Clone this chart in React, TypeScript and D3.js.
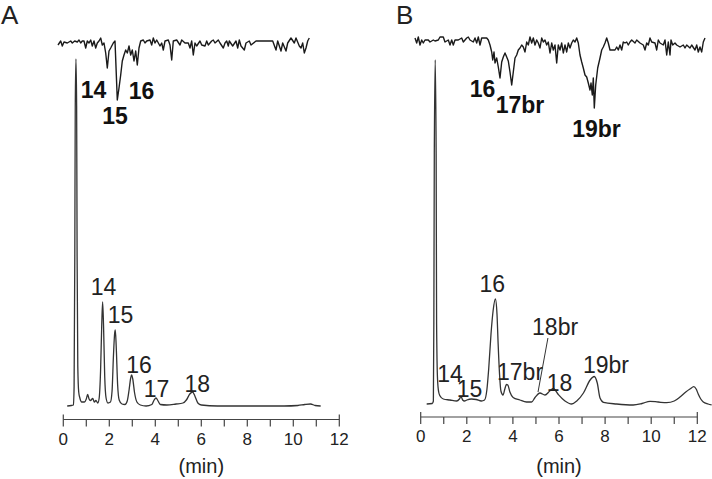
import React from "react";
import * as d3 from "d3";

// ---------- Panel A: chromatogram (time in min, intensity a.u.) ----------
const chromA: [number, number][] = [
  [0.17, 0], [0.35, 0.5], [0.44, 1], [0.47, 20], [0.5, 150], [0.52, 300], [0.55, 347], [0.58, 300], [0.6, 150],
  [0.63, 40], [0.67, 14], [0.72, 8], [0.8, 4], [0.92, 4], [1.0, 7], [1.06, 11.5], [1.12, 7], [1.18, 5.5],
  [1.28, 7.5], [1.35, 4], [1.42, 5.5], [1.5, 3], [1.56, 8], [1.62, 35], [1.67, 80], [1.71, 104], [1.75, 80],
  [1.8, 30], [1.86, 8], [1.94, 3], [2.05, 4], [2.12, 15], [2.18, 50], [2.23, 72], [2.26, 76], [2.3, 60],
  [2.36, 22], [2.43, 6], [2.55, 2], [2.68, 1.5], [2.78, 5], [2.86, 16], [2.93, 28], [2.97, 31], [3.02, 27],
  [3.1, 13], [3.2, 4], [3.35, 1], [3.6, 0], [3.85, 1.5], [3.95, 6], [4.03, 8], [4.12, 5], [4.22, 1.5],
  [4.5, 1], [4.9, 2], [5.2, 3], [5.35, 6], [5.5, 12], [5.62, 14], [5.72, 10], [5.85, 3], [6.0, 1], [6.7, 0],
  [8.2, 0], [9.6, 0], [10.2, 0.5], [10.5, 1.5], [10.75, 2], [10.95, 0.5], [11.19, 0],
];

// ---------- Panel B: chromatogram ----------
const chromB: [number, number][] = [
  [0.26, 0], [0.5, 0.5], [0.55, 3], [0.57, 80], [0.59, 250], [0.63, 344], [0.67, 250], [0.69, 80], [0.73, 25],
  [0.78, 12], [0.84, 8], [0.98, 5], [1.27, 4], [1.56, 3], [1.68, 5], [1.75, 7.5], [1.82, 4], [1.9, 3], [2.0, 4],
  [2.2, 5], [2.41, 4.5], [2.63, 3], [2.77, 4], [2.87, 14], [2.95, 35], [3.05, 70], [3.14, 93], [3.24, 105],
  [3.31, 90], [3.36, 60], [3.42, 30], [3.48, 13], [3.57, 9], [3.65, 15], [3.72, 19.5], [3.78, 19], [3.87, 12],
  [4.01, 6.5], [4.3, 4], [4.59, 2], [4.81, 2], [4.96, 6.5], [5.17, 11], [5.39, 9], [5.6, 13], [5.75, 15.5],
  [5.97, 9.5], [6.26, 3], [6.55, 0], [6.77, 3], [7.06, 11], [7.35, 24], [7.53, 27.5], [7.66, 21], [7.78, 6],
  [7.93, 1.7], [8.5, 0], [9.22, -1], [9.6, 0.5], [9.95, 2.7], [10.3, 2], [10.67, 1.3], [11.0, 3], [11.25, 7],
  [11.5, 12], [11.68, 15], [11.85, 17.3], [11.95, 15], [12.04, 10], [12.15, 5], [12.26, 2], [12.47, 0], [12.62, -1],
];

// ---------- Inset traces (scan index, signal) ----------
const insetA: [number, number][] = [
  [1, 60], [3.7, 64], [5.3, 59], [7, 63], [10.3, 62], [13.7, 64], [15.3, 62], [17.7, 64], [20.3, 63], [22, 65],
  [23.7, 62], [25.3, 64], [27, 64], [28.7, 57], [30.3, 64], [32, 62], [33.7, 65], [35.3, 59], [37, 64], [38.7, 57],
  [40.3, 62], [42, 64], [43.7, 67], [45.3, 60], [47, 62], [48.7, 52], [50.3, 37], [52, 54], [53.7, 57], [56.3, 62],
  [58, 64], [60.3, 5], [62, 17], [63.7, 30], [65.3, 44], [67, 50], [68.7, 55], [70.3, 52], [72, 59], [73.7, 50],
  [75.3, 55], [77, 44], [78.7, 54], [80.3, 40], [82, 57], [83.7, 64], [86.3, 65], [88, 62], [89.7, 64], [93, 65],
  [94.7, 60], [96.3, 67], [98, 62], [99.7, 65], [103, 59], [104.7, 62], [106.3, 55], [108, 64], [111.3, 65],
  [113, 60], [114.7, 45], [116.3, 64], [119.7, 65], [123, 60], [124.7, 65], [128, 62], [131.3, 62], [133, 57],
  [134.7, 64], [136.3, 50], [138, 62], [139.7, 59], [143, 64], [144.7, 60], [148, 59], [149.7, 64], [151.3, 60],
  [154.7, 64], [156.3, 65], [158, 62], [161.3, 65], [163, 62], [166.3, 57], [168, 62], [169.7, 64], [171.3, 59],
  [172.3, 64], [175.7, 59], [179, 64], [180.7, 57], [182.3, 65], [184, 59], [187.3, 55], [189, 62], [192.3, 64],
  [194, 60], [199, 64], [205.7, 64], [210.7, 64], [215.7, 64], [219, 55], [220.7, 64], [224, 54], [225.7, 62],
  [229, 54], [230.7, 62], [234, 67], [237.3, 62], [239, 67], [242.3, 59], [244, 57], [245.7, 62], [247.3, 52],
  [249, 57], [250.7, 64], [252.3, 67],
];

const insetB: [number, number][] = [
  [0, 67], [1.7, 62], [3.3, 68], [5, 60], [6.7, 65], [8.3, 62], [10, 65], [13.3, 65], [15, 63], [18.3, 65],
  [20, 64], [23.3, 65], [25, 68], [28.3, 68], [30, 63], [33.3, 65], [35, 60], [36.7, 65], [38.3, 60], [40, 65],
  [43.3, 65], [46.7, 67], [48.3, 63], [51.7, 67], [53.3, 68], [55, 65], [58.3, 63], [60, 67], [61.7, 62],
  [63.3, 68], [65, 60], [66.7, 67], [70, 67], [71.7, 67], [73.3, 65], [75, 60], [76.7, 53], [77.7, 45], [79, 53],
  [80, 42], [81.7, 47], [83.3, 38], [85, 27], [86.7, 43], [88.3, 48], [90, 52], [91.7, 48], [93.3, 44], [95, 33],
  [96.7, 20], [98.3, 33], [100, 47], [101.7, 50], [103.3, 55], [105, 57], [106.7, 60], [108.3, 58], [110, 53],
  [111.7, 63], [113.3, 60], [115, 68], [116.7, 62], [118.3, 67], [120, 60], [121.7, 65], [123.3, 62], [125, 57],
  [126.7, 67], [128.3, 63], [130, 65], [131.7, 60], [133.3, 63], [135, 52], [136.7, 62], [138.3, 55], [140, 60],
  [141.7, 42], [143.3, 60], [145, 55], [146.7, 62], [148.3, 52], [150, 60], [151.7, 53], [153.3, 62], [155, 57],
  [156.7, 62], [158.3, 65], [160, 63], [161.7, 67], [163.3, 62], [165, 50], [166.7, 43], [168.3, 37], [170, 30],
  [171.7, 28], [173.3, 22], [175, 15], [176, 22], [177.3, 10], [178.3, 27], [179.3, -3], [180.7, 20], [182.7, 37],
  [185, 47], [186.7, 55], [188.3, 58], [190, 62], [191.7, 67], [193.3, 62], [195, 55], [196.7, 55], [200, 55],
  [201.7, 58], [203.3, 55], [205, 60], [206.7, 55], [208.3, 63], [210, 62], [211.7, 63], [213.3, 60], [215, 63],
  [216.7, 65], [220, 62], [221.7, 65], [225, 62], [228.3, 60], [230, 55], [231.7, 62], [233.3, 60], [235, 67],
  [236.7, 63], [240, 62], [241.7, 55], [243.3, 65], [245, 62], [248.3, 60], [250, 65], [251.7, 50], [253.3, 63],
  [255, 50], [256, 65], [257.7, 60], [260, 62], [261.7, 60], [265, 58], [268.3, 60], [270, 57], [271.7, 60],
  [275, 57], [276.7, 60], [280, 55], [281.7, 60], [283.3, 53], [285, 58], [286.7, 53], [288.3, 63], [290, 67],
];

// ---------- Axis ticks ----------
const minorTicks = [0, 1, 2, 3, 4, 5, 6, 7, 8, 9, 10, 11, 12];
const tickLabels = [0, 2, 4, 6, 8, 10, 12];

// ---------- Peak labels: [text, time, intensity] ----------
const labelsA: [string, number, number][] = [
  ["14", 1.75, 111], ["15", 2.49, 83], ["16", 3.29, 33], ["17", 4.05, 9], ["18", 5.83, 14],
];
const labelsB: [string, number, number][] = [
  ["16", 3.11, 112], ["18br", 5.83, 69], ["17br", 4.31, 24], ["14", 1.27, 22], ["15", 2.12, 7],
  ["18", 6.02, 13], ["19br", 8.04, 31],
];
const leaderB: [number, number][] = [[5.52, 66], [5.09, 12]];
// inset labels: [text, scan, signal]
const insetLabelsA: [string, number, number][] = [["14", 36.5, 7], ["16", 84.5, 6], ["15", 58, -19]];
const insetLabelsB: [string, number, number][] = [["16", 67.5, 8], ["17br", 105, -8], ["19br", 181.5, -32]];

const FONT = "'Liberation Sans', Arial, Helvetica, sans-serif";

type PanelProps = {
  title: string;
  titleX: number;
  chrom: [number, number][];
  labels: [string, number, number][];
  inset: [number, number][];
  insetLabels: [string, number, number][];
  xRange: [number, number];
  baseY: number;
  axisY: number;
  insetDomain: [number, number];
  insetRange: [number, number];
  leader?: [number, number][];
};

function Panel(p: PanelProps) {
  const x = d3.scaleLinear().domain([0, 12]).range(p.xRange);
  const y = d3.scaleLinear().domain([0, 350]).range([p.baseY, p.baseY - 350]);
  const xi = d3.scaleLinear().domain(p.insetDomain).range(p.insetRange);
  const yi = d3.scaleLinear().domain([0, 70]).range([105, 35]);
  const line = d3.line<[number, number]>().x((d) => x(d[0])).y((d) => y(d[1])).curve(d3.curveMonotoneX);
  const iline = d3.line<[number, number]>().x((d) => xi(d[0])).y((d) => yi(d[1]));
  return (
    <g>
      <text x={p.titleX} y={24} fontSize={26} fontFamily={FONT} fill="#222">{p.title}</text>
      <path d={iline(p.inset) || ""} fill="none" stroke="#1a1a1a" strokeWidth={1.4} strokeLinejoin="round" />
      {p.insetLabels.map(([t, s, v], i) => (
        <text key={i} x={xi(s)} y={yi(v)} textAnchor="middle" fontSize={23} fontWeight="bold" fontFamily={FONT} fill="#111">{t}</text>
      ))}
      <path d={line(p.chrom) || ""} fill="none" stroke="#333" strokeWidth={1.3} strokeLinejoin="round" />
      {p.labels.map(([t, tm, v], i) => (
        <text key={i} x={x(tm)} y={y(v)} textAnchor="middle" fontSize={23} fontFamily={FONT} fill="#222">{t}</text>
      ))}
      {p.leader && (
        <line x1={x(p.leader[0][0])} y1={y(p.leader[0][1])} x2={x(p.leader[1][0])} y2={y(p.leader[1][1])} stroke="#333" strokeWidth={1} />
      )}
      <line x1={x(0)} x2={x(12)} y1={p.axisY} y2={p.axisY} stroke="#444" strokeWidth={1.2} />
      {minorTicks.map((t) => {
        const end = t === 0 || t === 12;
        return <line key={t} x1={x(t)} x2={x(t)} y1={end ? p.axisY - 5 : p.axisY} y2={p.axisY + 7} stroke="#444" strokeWidth={1.2} />;
      })}
      {tickLabels.map((t) => (
        <text key={t} x={x(t)} y={p.axisY + 25} textAnchor="middle" fontSize={17} fontFamily={FONT} fill="#222">{t}</text>
      ))}
      <text x={x(6)} y={473} textAnchor="middle" fontSize={20} fontFamily={FONT} fill="#222">(min)</text>
    </g>
  );
}

export default function App() {
  return (
    <svg width={712} height={479} style={{ position: "absolute", left: 0, top: 0, background: "#fff" }}>
      <rect width={712} height={479} fill="#fff" />
      <Panel title="A" titleX={1} chrom={chromA} labels={labelsA} inset={insetA} insetLabels={insetLabelsA}
        xRange={[63.3, 339.3]} baseY={406} axisY={419.5} insetDomain={[0, 255]} insetRange={[57, 312]} />
      <Panel title="B" titleX={396} chrom={chromB} labels={labelsB} inset={insetB} insetLabels={insetLabelsB}
        xRange={[420.7, 697.3]} baseY={404} axisY={417} insetDomain={[0, 290]} insetRange={[415, 705]} leader={leaderB} />
    </svg>
  );
}
